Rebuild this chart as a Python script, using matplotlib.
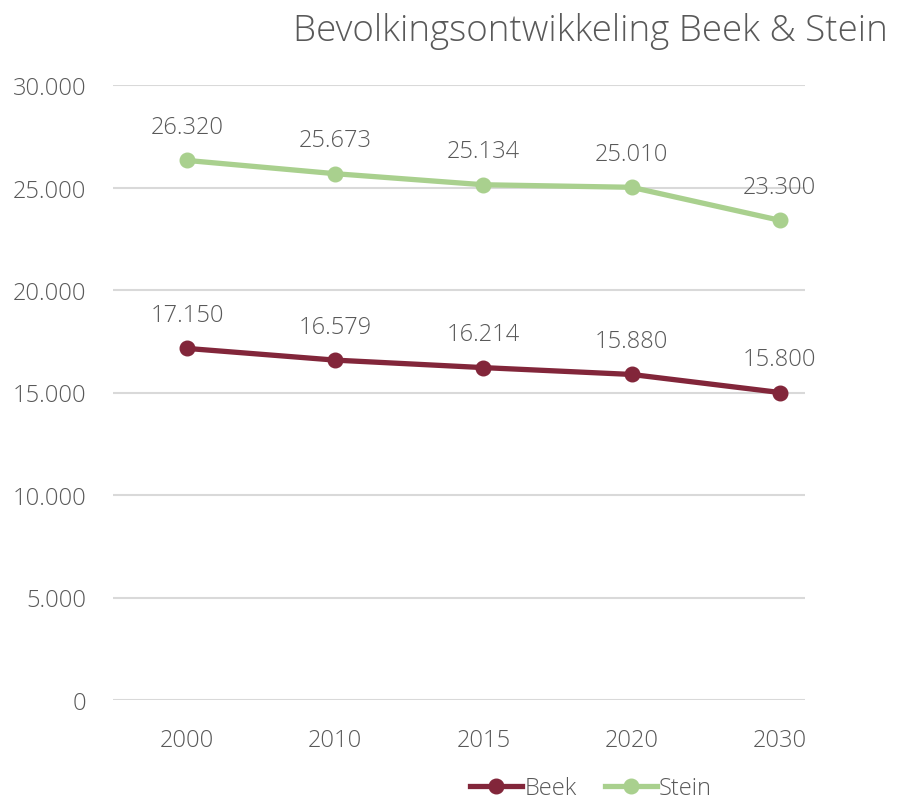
import matplotlib.pyplot as plt

# data
jaren = ["2000", "2010", "2015", "2020", "2030"]
beek = [17150, 16579, 16214, 15880, 15000]
stein = [26320, 25673, 25134, 25010, 23400]
beek_labels = ["17.150", "16.579", "16.214", "15.880", "15.800"]
stein_labels = ["26.320", "25.673", "25.134", "25.010", "23.300"]
y_ticks = [0, 5000, 10000, 15000, 20000, 25000, 30000]
y_ticklabels = ["0", "5.000", "10.000", "15.000", "20.000", "25.000", "30.000"]

grijs = "#595959"
kleur_beek = "#82263A"
kleur_stein = "#A9D08E"

plt.rcParams["font.family"] = ["Open Sans", "DejaVu Sans"]
plt.rcParams["font.weight"] = "light"

fig = plt.figure(figsize=(8.97, 8.03), dpi=100)
ax = fig.add_axes([113 / 897, 102 / 803, 692 / 897, 615 / 803])

x = list(range(len(jaren)))
ax.plot(x, beek, color=kleur_beek, lw=3.8, marker="o", ms=10.5, label="Beek")
ax.plot(x, stein, color=kleur_stein, lw=3.8, marker="o", ms=10.5, label="Stein")

for reeks, teksten in ((beek, beek_labels), (stein, stein_labels)):
    for xi, v, t in zip(x, reeks, teksten):
        ax.annotate(t, (xi, v), xytext=(0, 24), textcoords="offset points",
                    ha="center", va="center", fontsize=17, color=grijs)

ax.set_xlim(-0.5, 4.17)
ax.set_ylim(0, 30000)
ax.set_xticks(x)
ax.set_xticklabels(jaren)
ax.set_yticks(y_ticks)
ax.set_yticklabels(y_ticklabels)
ax.tick_params(length=0, labelsize=17, labelcolor=grijs)
ax.tick_params(axis="y", pad=19)
ax.tick_params(axis="x", pad=20)
ax.grid(axis="y", color="#D9D9D9", lw=1.5)
ax.set_axisbelow(True)
for s in ax.spines.values():
    s.set_visible(False)

fig.text(888 / 897, 1 - 31 / 803, "Bevolkingsontwikkeling Beek & Stein",
         ha="right", va="center", fontsize=26.5, color=grijs)

fig.legend(loc="center", bbox_to_anchor=(591 / 897, 1 - 789 / 803), ncol=2,
           frameon=False, fontsize=17, labelcolor=grijs, handlelength=2.2,
           handletextpad=0.1, columnspacing=1.2)

fig.savefig("out.png", dpi=100)
